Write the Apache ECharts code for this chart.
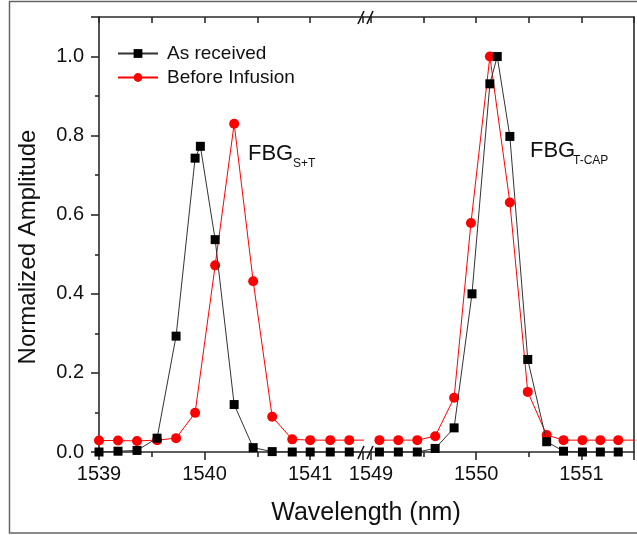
<!DOCTYPE html>
<html>
<head>
<meta charset="utf-8">
<script src="https://cdn.jsdelivr.net/npm/echarts@6/dist/echarts.min.js"></script>
<style>
html,body{margin:0;padding:0;background:#fff;}
#chart{width:637px;height:535px;}
</style>
</head>
<body>
<div id="chart"></div>
<script>
// ---- data ----
const seriesNames = ['As received', 'Before Infusion'];
const yTicks = [0, 0.2, 0.4, 0.6, 0.8, 1.0];

// left segment (1539 - 1541.5 nm)
const leftBlackX = [1539.00,1539.18,1539.36,1539.55,1539.73,1539.91,1539.96,1540.10,1540.28,1540.46,1540.64,1540.83,1541.00,1541.19,1541.37,1541.55];
const leftBlackY = [0.000,0.002,0.004,0.035,0.293,0.743,0.773,0.537,0.120,0.011,0.001,0.000,0.000,0.000,0.000,0.000];
const leftRedX   = [1539.00,1539.18,1539.36,1539.55,1539.73,1539.91,1540.10,1540.28,1540.46,1540.64,1540.83,1541.00,1541.19,1541.37,1541.55];
const leftRedY   = [0.029,0.029,0.028,0.030,0.035,0.099,0.472,0.830,0.432,0.089,0.032,0.030,0.030,0.030,0.030];

// right segment (1549 - 1551.5 nm)
const rightBlackX = [1549.08,1549.26,1549.44,1549.61,1549.79,1549.96,1550.13,1550.20,1550.32,1550.49,1550.67,1550.83,1551.01,1551.18,1551.35];
const rightBlackY = [0.000,0.000,0.000,0.009,0.061,0.400,0.931,1.000,0.798,0.234,0.026,0.002,0.000,0.000,0.000];
const rightRedX   = [1549.08,1549.26,1549.44,1549.61,1549.79,1549.95,1550.13,1550.32,1550.49,1550.67,1550.83,1551.01,1551.18,1551.35,1551.52];
const rightRedY   = [0.030,0.030,0.030,0.040,0.137,0.579,1.000,0.631,0.152,0.043,0.030,0.030,0.030,0.030,0.030];

const zip = (xs, ys) => xs.map((x, i) => [x, ys[i]]);

// ---- chart ----
const FONT = '"Liberation Sans", Arial, sans-serif';
const AX = '#2a2a2a';
const chart = echarts.init(document.getElementById('chart'), null, {renderer: 'canvas'});

const bottomAxis = (grid, min, max) => ({
  type: 'value', gridIndex: grid, position: 'bottom', min: min, max: max, interval: 1,
  axisLine: {show: true, onZero: false, lineStyle: {color: AX, width: 1.6}},
  axisTick: {show: true, inside: false, length: 8, lineStyle: {color: AX, width: 1.6}},
  minorTick: {show: true, splitNumber: 2, length: 5, lineStyle: {color: AX, width: 1.6}},
  splitLine: {show: false},
  axisLabel: {show: true, margin: 12, fontSize: 20, fontFamily: FONT, color: '#111',
    showMaxLabel: false,
    formatter: v => (Math.abs(v - Math.round(v)) < 1e-6 ? String(Math.round(v)) : '')}
});
const topAxis = (grid, min, max) => ({
  type: 'value', gridIndex: grid, position: 'top', min: min, max: max, interval: 0.5,
  axisLine: {show: true, onZero: false, lineStyle: {color: AX, width: 1.6}},
  axisTick: {show: true, inside: true, length: 6, lineStyle: {color: AX, width: 1.6}},
  splitLine: {show: false}, axisLabel: {show: false}
});

const option = {
  animation: false,
  backgroundColor: '#ffffff',
  grid: [
    {left: 99, top: 17, width: 264, height: 435},
    {left: 371, top: 17, width: 263, height: 435}
  ],
  xAxis: [
    bottomAxis(0, 1539, 1541.5),
    topAxis(0, 1539, 1541.5),
    bottomAxis(1, 1549, 1551.5),
    topAxis(1, 1549, 1551.5)
  ],
  yAxis: [
    {type: 'value', gridIndex: 0, position: 'left', min: 0, max: 1.1, interval: 0.2,
     axisLine: {show: true, onZero: false, lineStyle: {color: AX, width: 1.6}},
     axisTick: {show: true, inside: false, length: 8, lineStyle: {color: AX, width: 1.6}},
     minorTick: {show: true, splitNumber: 2, length: 4, lineStyle: {color: AX, width: 1.6}},
     splitLine: {show: false},
     axisLabel: {show: true, margin: 15, fontSize: 20, fontFamily: FONT, color: '#111',
       showMaxLabel: false,
       formatter: v => (yTicks.some(t => Math.abs(t - v) < 1e-6) ? v.toFixed(1) : '')}},
    {type: 'value', gridIndex: 1, position: 'right', min: 0, max: 1.1, interval: 0.2,
     axisLine: {show: true, onZero: false, lineStyle: {color: AX, width: 1.6}},
     axisTick: {show: false}, splitLine: {show: false}, axisLabel: {show: false}}
  ],
  legend: {
    orient: 'vertical', left: 112, top: 39, itemWidth: 40, itemHeight: 11, itemGap: 5,
    data: seriesNames,
    textStyle: {fontSize: 19, fontFamily: FONT, color: '#111', padding: [0, 0, 0, 4]}
  },
  series: [
    {name: seriesNames[0], type: 'line', xAxisIndex: 0, yAxisIndex: 0, data: zip(leftBlackX, leftBlackY),
     symbol: 'rect', symbolSize: 9, itemStyle: {color: '#000'}, lineStyle: {color: '#333', width: 1}, z: 3},
    {name: seriesNames[1], type: 'line', xAxisIndex: 0, yAxisIndex: 0, data: zip(leftRedX, leftRedY),
     symbol: 'circle', symbolSize: 10, itemStyle: {color: '#ff0000'}, lineStyle: {color: '#ff0000', width: 1}, z: 2},
    {name: seriesNames[0], type: 'line', xAxisIndex: 2, yAxisIndex: 1, data: zip(rightBlackX, rightBlackY),
     symbol: 'rect', symbolSize: 9, itemStyle: {color: '#000'}, lineStyle: {color: '#333', width: 1}, z: 3},
    {name: seriesNames[1], type: 'line', xAxisIndex: 2, yAxisIndex: 1, data: zip(rightRedX, rightRedY),
     symbol: 'circle', symbolSize: 10, itemStyle: {color: '#ff0000'}, lineStyle: {color: '#ff0000', width: 1}, z: 2}
  ],
  graphic: [
    // outer frame
    {type: 'rect', shape: {x: 9.5, y: 1.5, width: 640, height: 531.5}, style: {fill: 'none', stroke: '#666', lineWidth: 1.5}, silent: true},
    // axis lines across the break gap
    {type: 'line', shape: {x1: 362, y1: 17, x2: 372, y2: 17}, style: {stroke: AX, lineWidth: 1.6}},
    {type: 'line', shape: {x1: 362, y1: 452, x2: 372, y2: 452}, style: {stroke: AX, lineWidth: 1.6}},
    // break marks
    {type: 'line', shape: {x1: 358, y1: 24, x2: 364, y2: 11}, style: {stroke: '#111', lineWidth: 1.6}},
    {type: 'line', shape: {x1: 367, y1: 24, x2: 373, y2: 11}, style: {stroke: '#111', lineWidth: 1.6}},
    {type: 'line', shape: {x1: 358, y1: 459, x2: 364, y2: 446}, style: {stroke: '#111', lineWidth: 1.6}},
    {type: 'line', shape: {x1: 367, y1: 459, x2: 373, y2: 446}, style: {stroke: '#111', lineWidth: 1.6}},
    // axis titles
    {type: 'text', x: 28, y: 247, rotation: Math.PI / 2,
     style: {text: 'Normalized Amplitude', font: '24px ' + FONT, fill: '#111', textAlign: 'center', textVerticalAlign: 'middle'}},
    {type: 'text', x: 366, y: 513,
     style: {text: 'Wavelength (nm)', font: '25px ' + FONT, fill: '#111', textAlign: 'center', textVerticalAlign: 'middle'}},
    // annotations
    {type: 'text', x: 248, y: 153.5,
     style: {text: 'FBG', font: '22px ' + FONT, fill: '#111', textAlign: 'left', textVerticalAlign: 'middle'}},
    {type: 'text', x: 293, y: 163.5,
     style: {text: 'S+T', font: '12px ' + FONT, fill: '#111', textAlign: 'left', textVerticalAlign: 'middle'}},
    {type: 'text', x: 530, y: 151,
     style: {text: 'FBG', font: '22px ' + FONT, fill: '#111', textAlign: 'left', textVerticalAlign: 'middle'}},
    {type: 'text', x: 573, y: 161,
     style: {text: 'T-CAP', font: '12px ' + FONT, fill: '#111', textAlign: 'left', textVerticalAlign: 'middle'}}
  ]
};
chart.setOption(option);
</script>
</body>
</html>
